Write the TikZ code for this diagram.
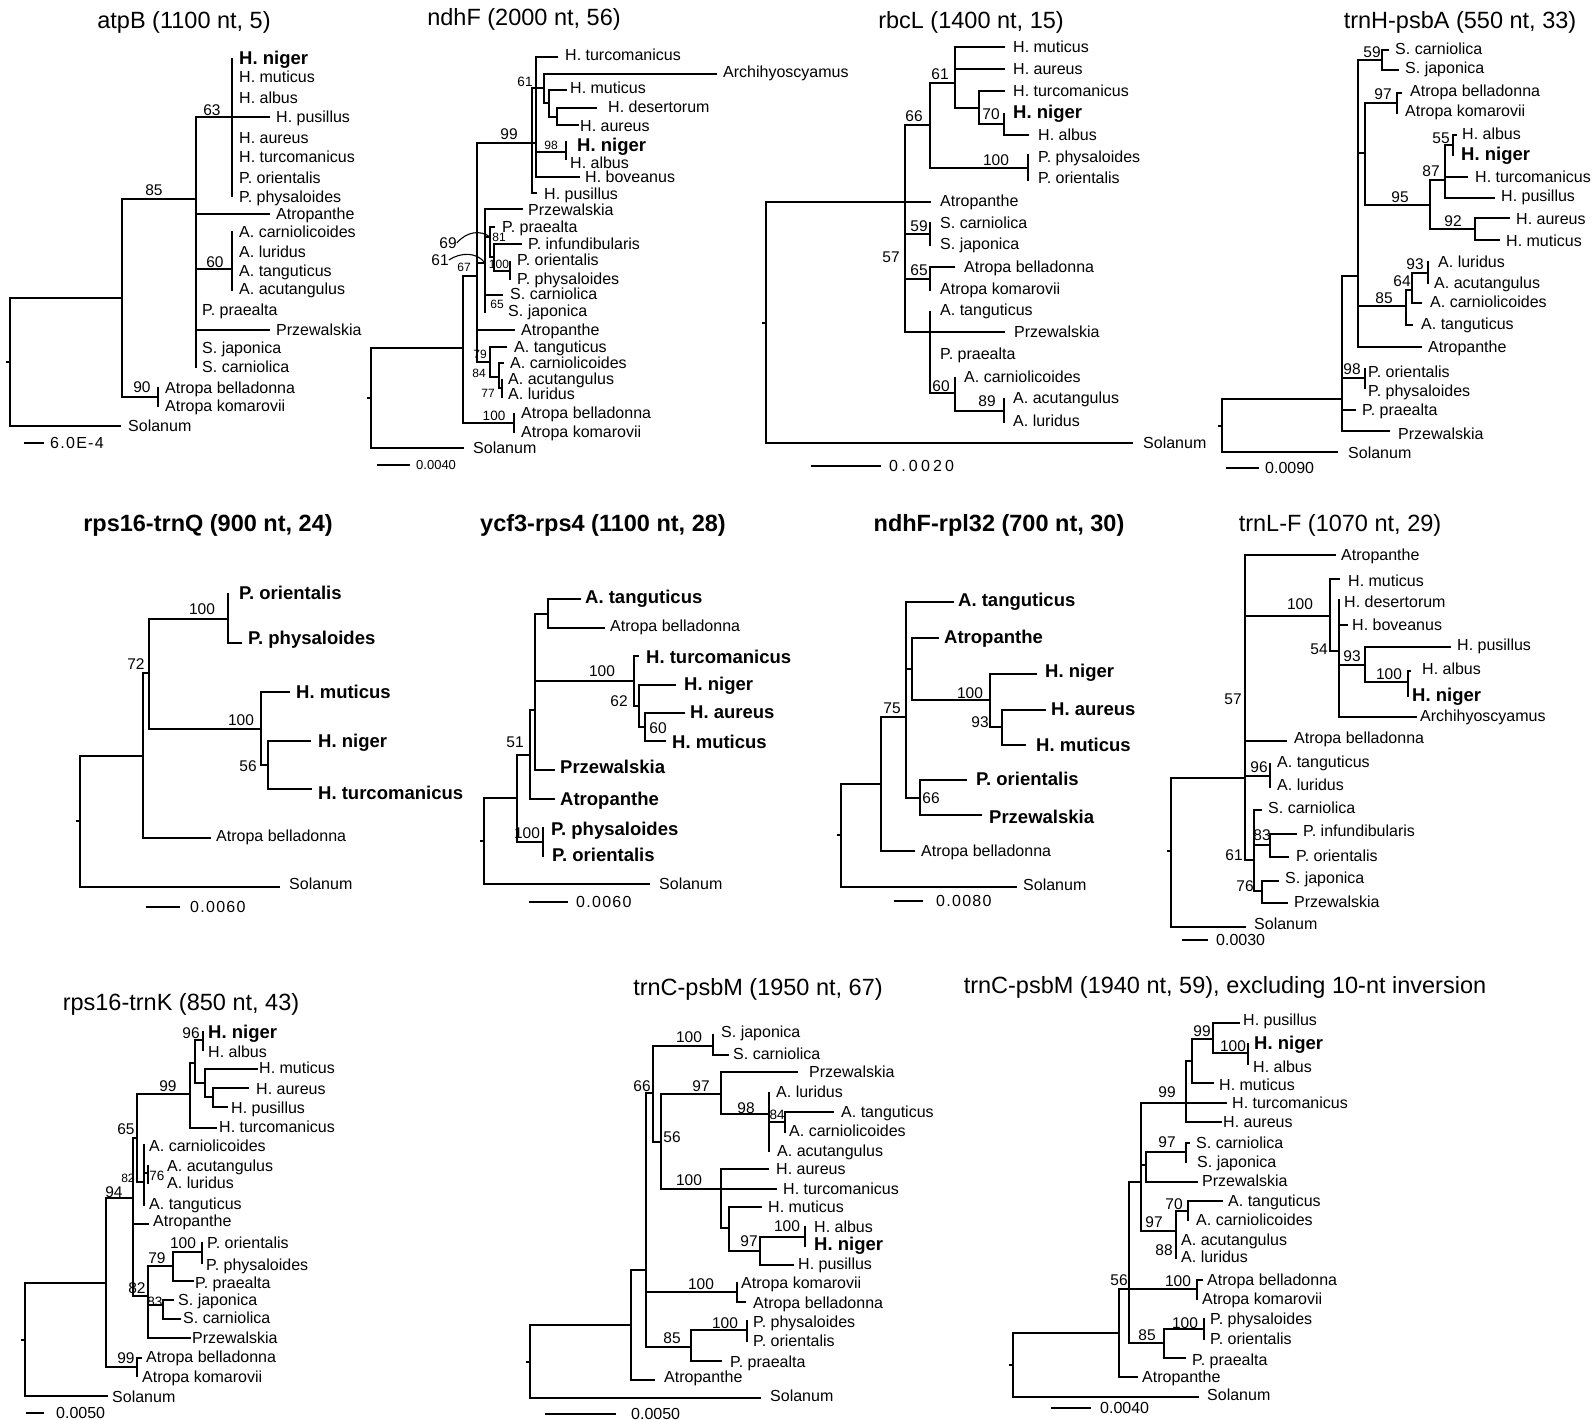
\documentclass[tikz,border=0pt]{standalone}
\usepackage{fontspec}
\setmainfont{Liberation Sans}
\newfontfamily\spfont[LetterSpace=8]{Liberation Sans}
\newfontfamily\spwfont[LetterSpace=20]{Liberation Sans}
\newcommand\lf[7][lab]{\coordinate (#2) at (#3,#4); \node[#1] (#2-t) at (#5,#6) {#7};}
\newcommand\kids[2]{\foreach \kk in {#2}{\draw[br] (#1) |- (\kk);}}
\newcommand\bv[4][bs]{\node[#1] (#2) at (#3) {#4};}
\newcommand\sbar[7][sc]{\coordinate (#2-a) at (#3,#5); \coordinate (#2-b) at (#4,#5); \draw[br] (#2-a) -- (#2-b); \node[#1] (#2-t) at (#6,#5) {#7};}
\newcommand\rt[3]{\coordinate (#1-0) at (#2-3,#3); \coordinate (#1R) at (#2,#3); \draw[br] (#1-0) -- (#1R);}
\tikzset{
 br/.style={line width=1.9pt, line cap=rect},
 lab/.style={anchor=base west, inner sep=0pt, font=\fontsize{16}{16}\selectfont, yshift=-5.7pt},
 labb/.style={anchor=base west, inner sep=0pt, font=\fontsize{18.5}{18.5}\selectfont\bfseries, yshift=-6.6pt},
 bs/.style={inner sep=0pt, font=\fontsize{15.5}{15.5}\selectfont},
 bsm/.style={inner sep=0pt, font=\fontsize{13.5}{13.5}\selectfont},
 bss/.style={inner sep=0pt, font=\fontsize{12}{12}\selectfont},
 ttl/.style={anchor=base, inner sep=0pt, font=\fontsize{23.5}{23.5}\selectfont, yshift=-8.5pt},
 ttlb/.style={anchor=base, inner sep=0pt, font=\fontsize{23.5}{23.5}\selectfont\bfseries, yshift=-8.5pt},
 sc/.style={anchor=base west, inner sep=0pt, font=\spfont\fontsize{16}{16}\selectfont, yshift=-5.7pt},
 scw/.style={anchor=base west, inner sep=0pt, font=\spwfont\fontsize{16}{16}\selectfont, yshift=-5.7pt},
 scs/.style={anchor=base west, inner sep=0pt, font=\fontsize{13}{13}\selectfont, yshift=-4.7pt},
 lead/.style={line width=1.1pt},
}
\begin{document}
\begin{tikzpicture}[x=1pt,y=-1pt]
\fill[white] (0,0) rectangle (1593,1420);
\useasboundingbox (0,0) rectangle (1593,1420);

% ================= Tree 1: atpB
\node[ttl] (t1) at (184,20) {atpB (1100 nt, 5)};
\rt{a}{10}{362}
\coordinate (aA) at (122,298);
\coordinate (aB) at (196,199);
\coordinate (aC) at (232,117);
\coordinate (aD) at (232,269);
\coordinate (aE) at (158,397);
\lf{aSol}{120}{426}{128}{426}{Solanum}
\lf[labb]{aHn}{232}{59}{239}{58}{H. niger}
\lf{aHm}{232}{77}{239}{77}{H. muticus}
\lf{aHa}{232}{98}{239}{98}{H. albus}
\lf{aHp}{269}{117}{276}{117}{H. pusillus}
\lf{aHau}{232}{138}{239}{138}{H. aureus}
\lf{aHt}{232}{157}{239}{157}{H. turcomanicus}
\lf{aPo}{232}{178}{239}{178}{P. orientalis}
\lf{aPp}{232}{196}{239}{197}{P. physaloides}
\lf{aAtp}{269}{214}{276}{214}{Atropanthe}
\lf{aAc}{232}{232}{239}{232}{A. carniolicoides}
\lf{aAl}{232}{252}{239}{252}{A. luridus}
\lf{aAt}{232}{271}{239}{271}{A. tanguticus}
\lf{aAa}{232}{290}{239}{289}{A. acutangulus}
\lf{aPpr}{196}{310}{202}{310}{P. praealta}
\lf{aPrz}{269}{330}{276}{330}{Przewalskia}
\lf{aSj}{196}{348}{202}{348}{S. japonica}
\lf{aSc}{196}{367}{202}{367}{S. carniolica}
\lf{aAb}{158}{388}{165}{388}{Atropa belladonna}
\lf{aAk}{158}{406}{165}{406}{Atropa komarovii}
\kids{aR}{aA,aSol}
\kids{aA}{aB,aE}
\kids{aB}{aC,aAtp,aD,aPpr,aPrz,aSj,aSc}
\kids{aC}{aHn,aHm,aHa,aHp,aHau,aHt,aPo,aPp}
\kids{aD}{aAc,aAl,aAt,aAa}
\kids{aE}{aAb,aAk}
\bv{aq1}{154,190}{85}
\bv{aq2}{212,110}{63}
\bv{aq3}{215,262}{60}
\bv{aq4}{142,387}{90}
\sbar{aS}{25}{43}{443}{50}{6.0E-4}

% ================= Tree 2: ndhF
\node[ttl] (t2) at (524,17) {ndhF (2000 nt, 56)};
\rt{b}{371}{398}
\coordinate (bA) at (463,348);
\coordinate (bE) at (477,276);
\coordinate (bF) at (532,143);
\coordinate (bF2) at (536,143);
\coordinate (bM) at (544,88);
\coordinate (bM2) at (549,103);
\coordinate (bM3) at (557,117);
\coordinate (bN) at (566,152);
\coordinate (bG) at (485,263);
\coordinate (b69) at (490,237);
\coordinate (b81) at (494,257);
\coordinate (bPo) at (510,271);
\coordinate (bH) at (490,362);
\coordinate (bH2) at (499,377);
\coordinate (bH3) at (502,388);
\coordinate (bAtr) at (514,423);
\lf{bSol}{463}{448}{473}{448}{Solanum}
\lf{bAb}{514}{414}{521}{413}{Atropa belladonna}
\lf{bAk}{514}{432}{521}{432}{Atropa komarovii}
\lf{bAtp}{514}{330}{521}{330}{Atropanthe}
\lf{bPrz}{522}{209}{528}{210}{Przewalskia}
\lf{bPpr}{494}{227}{502}{227}{P. praealta}
\lf{bPi}{521}{244}{528}{244}{P. infundibularis}
\lf{bPo1}{510}{262}{517}{260}{P. orientalis}
\lf{bPp}{510}{279}{517}{279}{P. physaloides}
\lf{bSc}{502}{295}{510}{294}{S. carniolica}
\lf{bSj}{485}{312}{508}{311}{S. japonica}
\lf{bAt}{506}{347}{514}{347}{A. tanguticus}
\lf{bAc}{503}{363}{510}{363}{A. carniolicoides}
\lf{bAa}{502}{380}{508}{379}{A. acutangulus}
\lf{bAl}{502}{397}{508}{394}{A. luridus}
\lf{bHt}{557}{57}{565}{55}{H. turcomanicus}
\lf{bAr}{716}{74}{723}{72}{Archihyoscyamus}
\lf{bHm}{566}{90}{570}{88}{H. muticus}
\lf{bHd}{596}{108}{608}{107}{H. desertorum}
\lf{bHa}{578}{125}{580}{126}{H. aureus}
\lf[labb]{bHn}{566}{142}{577}{145}{H. niger}
\lf{bHal}{566}{159}{570}{163}{H. albus}
\lf{bHb}{579}{177}{585}{177}{H. boveanus}
\lf{bHp}{536}{193}{544}{194}{H. pusillus}
\kids{bR}{bA,bSol}
\kids{bA}{bE,bAtr}
\kids{bAtr}{bAb,bAk}
\kids{bE}{bF,bG,bAtp,bH}
\kids{bG}{bPrz,b69,bSc,bSj}
\kids{b69}{bPpr,b81}
\kids{b81}{bPi,bPo}
\kids{bPo}{bPo1,bPp}
\kids{bH}{bAt,bH2}
\kids{bH2}{bAc,bH3}
\kids{bH3}{bAa,bAl}
\kids{bF}{bF2,bM,bHp}
\kids{bF2}{bHt,bN,bHb}
\kids{bN}{bHn,bHal}
\kids{bM}{bAr,bM2}
\kids{bM2}{bHm,bM3}
\kids{bM3}{bHd,bHa}
\bv{bq1}{509,134}{99}
\bv[bsm]{bq2}{525,82}{61}
\bv[bss]{bq3}{551,145}{98}
\bv[bss]{bq4}{464,267}{67}
\bv[bsm]{bq5}{494,416}{100}
\bv[bss]{bq6}{499,237}{81}
\bv[bss]{bq7}{499,264}{100}
\bv[bss]{bq8}{497,304}{65}
\bv[bss]{bq9}{480,354}{79}
\bv[bss]{bq10}{479,373}{84}
\bv[bss]{bq11}{488,393}{77}
\bv{bq69}{448,243}{69}
\bv{bq61}{440,260}{61}
\draw[lead] (bq69.east) .. controls (467,231) and (481,230) .. (b69);
\draw[lead] (bq61.east) .. controls (461,252) and (477,252) .. (bG);
\sbar[scs]{bS}{378}{409}{465}{416}{0.0040}

% ================= Tree 3: rbcL
\node[ttl] (t3) at (971,20) {rbcL (1400 nt, 15)};
\rt{c}{766}{323}
\coordinate (cA) at (905,202);
\coordinate (cB) at (930,125);
\coordinate (cC) at (955,83);
\coordinate (cD) at (979,108);
\coordinate (cE) at (1004,124);
\coordinate (cPh) at (1028,168);
\coordinate (cS) at (930,234);
\coordinate (cAt) at (930,279);
\coordinate (cP) at (930,332);
\coordinate (cQ) at (955,393);
\coordinate (cRr) at (1004,411);
\lf{cSol}{1132}{443}{1143}{443}{Solanum}
\lf{cAtp}{930}{202}{940}{201}{Atropanthe}
\lf{cSc}{930}{223}{940}{223}{S. carniolica}
\lf{cSj}{930}{245}{940}{244}{S. japonica}
\lf{cAb}{954}{267}{964}{267}{Atropa belladonna}
\lf{cAk}{930}{290}{940}{289}{Atropa komarovii}
\lf{cAt1}{930}{312}{940}{310}{A. tanguticus}
\lf{cPrz}{1004}{332}{1014}{332}{Przewalskia}
\lf{cPpr}{930}{354}{940}{354}{P. praealta}
\lf{cAc}{955}{378}{964}{377}{A. carniolicoides}
\lf{cAa}{1004}{399}{1013}{398}{A. acutangulus}
\lf{cAl}{1004}{422}{1013}{421}{A. luridus}
\lf{cHm}{1004}{47}{1013}{47}{H. muticus}
\lf{cHa}{1004}{69}{1013}{69}{H. aureus}
\lf{cHt}{1004}{91}{1013}{91}{H. turcomanicus}
\lf[labb]{cHn}{1004}{114}{1013}{112}{H. niger}
\lf{cHal}{1028}{135}{1038}{135}{H. albus}
\lf{cPp}{1028}{155}{1038}{157}{P. physaloides}
\lf{cPo}{1028}{180}{1038}{178}{P. orientalis}
\kids{cR}{cA,cSol}
\kids{cA}{cB,cAtp,cS,cAt,cP}
\kids{cS}{cSc,cSj}
\kids{cAt}{cAb,cAk}
\kids{cP}{cAt1,cPrz,cPpr,cQ}
\kids{cQ}{cAc,cRr}
\kids{cRr}{cAa,cAl}
\kids{cB}{cC,cPh}
\kids{cPh}{cPp,cPo}
\kids{cC}{cHm,cHa,cD}
\kids{cD}{cHt,cE}
\kids{cE}{cHn,cHal}
\bv{cq1}{914,116}{66}
\bv{cq2}{940,74}{61}
\bv{cq3}{991,114}{70}
\bv{cq4}{996,160}{100}
\bv{cq5}{919,226}{59}
\bv{cq6}{919,270}{65}
\bv{cq7}{891,257}{57}
\bv{cq8}{941,386}{60}
\bv{cq9}{987,401}{89}
\sbar[scw]{cSb}{812}{880}{466}{889}{0.0020}

% ================= Tree 4: trnH-psbA
\node[ttl] (t4) at (1460,20) {trnH-psbA (550 nt, 33)};
\rt{d}{1222}{426}
\coordinate (dA) at (1342,399);
\coordinate (dV) at (1358,276);
\coordinate (dS) at (1382,60);
\coordinate (dV2) at (1365,153);
\coordinate (dAt) at (1397,103);
\coordinate (d95) at (1430,205);
\coordinate (d87) at (1445,180);
\coordinate (d55) at (1453,145);
\coordinate (d92) at (1475,229);
\coordinate (d85) at (1406,306);
\coordinate (d64) at (1412,290);
\coordinate (d93) at (1428,273);
\coordinate (dPo) at (1365,378);
\lf{dSol}{1337}{452}{1348}{453}{Solanum}
\lf{dPo1}{1365}{369}{1368}{372}{P. orientalis}
\lf{dPp}{1365}{388}{1368}{391}{P. physaloides}
\lf{dPpr}{1355}{410}{1362}{410}{P. praealta}
\lf{dPrz}{1389}{431}{1398}{434}{Przewalskia}
\lf{dSc}{1388}{50}{1395}{49}{S. carniolica}
\lf{dSj}{1398}{70}{1405}{68}{S. japonica}
\lf{dAb}{1401}{93}{1410}{91}{Atropa belladonna}
\lf{dAk}{1397}{113}{1405}{111}{Atropa komarovii}
\lf{dHal}{1456}{135}{1462}{134}{H. albus}
\lf[labb]{dHn}{1453}{155}{1461}{154}{H. niger}
\lf{dHt}{1467}{177}{1475}{177}{H. turcomanicus}
\lf{dHp}{1494}{198}{1501}{196}{H. pusillus}
\lf{dHa}{1509}{218}{1516}{219}{H. aureus}
\lf{dHm}{1499}{240}{1506}{241}{H. muticus}
\lf{dAl}{1428}{262}{1438}{262}{A. luridus}
\lf{dAa}{1428}{283}{1434}{283}{A. acutangulus}
\lf{dAc}{1421}{303}{1430}{302}{A. carniolicoides}
\lf{dAt1}{1412}{325}{1421}{324}{A. tanguticus}
\lf{dAtp}{1421}{347}{1428}{347}{Atropanthe}
\kids{dR}{dA,dSol}
\kids{dA}{dV,dPo,dPpr,dPrz}
\kids{dPo}{dPo1,dPp}
\kids{dV}{dS,dV2,d85,dAtp}
\kids{dS}{dSc,dSj}
\kids{dV2}{dAt,d95}
\kids{dAt}{dAb,dAk}
\kids{d95}{d87,d92}
\kids{d87}{d55,dHt,dHp}
\kids{d55}{dHal,dHn}
\kids{d92}{dHa,dHm}
\kids{d85}{d64,dAt1}
\kids{d64}{d93,dAc}
\kids{d93}{dAl,dAa}
\bv{dq1}{1372,52}{59}
\bv{dq2}{1383,94}{97}
\bv{dq3}{1441,138}{55}
\bv{dq4}{1431,171}{87}
\bv{dq5}{1400,197}{95}
\bv{dq6}{1453,221}{92}
\bv{dq7}{1415,264}{93}
\bv{dq8}{1402,281}{64}
\bv{dq9}{1384,298}{85}
\bv{dq10}{1352,369}{98}
\sbar[lab]{dSb}{1227}{1258}{468}{1265}{0.0090}

% ================= Tree 5: rps16-trnQ
\node[ttlb] (t5) at (208,523) {rps16-trnQ (900 nt, 24)};
\rt{e}{80}{821}
\coordinate (eA) at (143,756);
\coordinate (eB) at (149,673);
\coordinate (eP) at (228,619);
\coordinate (eH) at (261,729);
\coordinate (eH2) at (268,765);
\lf{eSol}{279}{887}{289}{884}{Solanum}
\lf{eAb}{210}{838}{216}{836}{Atropa belladonna}
\lf[labb]{ePo}{228}{594}{239}{593}{P. orientalis}
\lf[labb]{ePp}{241}{643}{248}{638}{P. physaloides}
\lf[labb]{eHm}{289}{692}{296}{692}{H. muticus}
\lf[labb]{eHn}{310}{741}{318}{741}{H. niger}
\lf[labb]{eHt}{311}{789}{318}{793}{H. turcomanicus}
\kids{eR}{eA,eSol}
\kids{eA}{eB,eAb}
\kids{eB}{eP,eH}
\kids{eP}{ePo,ePp}
\kids{eH}{eHm,eH2}
\kids{eH2}{eHn,eHt}
\bv{eq1}{136,664}{72}
\bv{eq2}{202,609}{100}
\bv{eq3}{241,720}{100}
\bv{eq4}{248,766}{56}
\sbar{eSb}{147}{179}{907}{190}{0.0060}

% ================= Tree 6: ycf3-rps4
\node[ttlb] (t6) at (603,523) {ycf3-rps4 (1100 nt, 28)};
\rt{f}{484}{841}
\coordinate (fA) at (517,798);
\coordinate (fB) at (530,755);
\coordinate (fC) at (535,710);
\coordinate (fD) at (548,614);
\coordinate (fH) at (634,681);
\coordinate (fH2) at (639,706);
\coordinate (fH3) at (645,727);
\coordinate (fP) at (543,842);
\lf{fSol}{649}{884}{659}{884}{Solanum}
\lf[labb]{fPp}{543}{828}{551}{829}{P. physaloides}
\lf[labb]{fPo}{543}{856}{552}{855}{P. orientalis}
\lf[labb]{fAtp}{554}{799}{560}{799}{Atropanthe}
\lf[labb]{fPrz}{554}{770}{560}{767}{Przewalskia}
\lf[labb]{fAt}{580}{599}{585}{597}{A. tanguticus}
\lf{fAb}{604}{628}{610}{626}{Atropa belladonna}
\lf[labb]{fHt}{638}{656}{646}{657}{H. turcomanicus}
\lf[labb]{fHn}{675}{685}{684}{684}{H. niger}
\lf[labb]{fHa}{684}{713}{690}{712}{H. aureus}
\lf[labb]{fHm}{665}{741}{672}{742}{H. muticus}
\kids{fR}{fA,fSol}
\kids{fA}{fB,fP}
\kids{fP}{fPp,fPo}
\kids{fB}{fC,fAtp}
\kids{fC}{fD,fH,fPrz}
\kids{fD}{fAt,fAb}
\kids{fH}{fHt,fH2}
\kids{fH2}{fHn,fH3}
\kids{fH3}{fHa,fHm}
\bv{fq1}{515,742}{51}
\bv{fq2}{527,833}{100}
\bv{fq3}{602,671}{100}
\bv{fq4}{619,701}{62}
\bv{fq5}{658,728}{60}
\sbar{fSb}{530}{567}{902}{576}{0.0060}

% ================= Tree 7: ndhF-rpl32
\node[ttlb] (t7) at (999,523) {ndhF-rpl32 (700 nt, 30)};
\rt{g}{841}{835}
\coordinate (gA) at (881,784);
\coordinate (gB) at (906,717);
\coordinate (gC) at (912,669);
\coordinate (gH) at (990,700);
\coordinate (gH2) at (1002,727);
\coordinate (gD) at (920,798);
\lf{gSol}{1016}{887}{1023}{885}{Solanum}
\lf{gAb}{914}{851}{921}{851}{Atropa belladonna}
\lf[labb]{gAt}{953}{602}{958}{600}{A. tanguticus}
\lf[labb]{gAtp}{938}{638}{944}{637}{Atropanthe}
\lf[labb]{gHn}{1036}{674}{1045}{671}{H. niger}
\lf[labb]{gHa}{1045}{710}{1051}{709}{H. aureus}
\lf[labb]{gHm}{1025}{745}{1036}{745}{H. muticus}
\lf[labb]{gPo}{966}{780}{976}{779}{P. orientalis}
\lf[labb]{gPrz}{981}{815}{989}{817}{Przewalskia}
\kids{gR}{gA,gSol}
\kids{gA}{gB,gAb}
\kids{gB}{gAt,gC,gD}
\kids{gC}{gAtp,gH}
\kids{gH}{gHn,gH2}
\kids{gH2}{gHa,gHm}
\kids{gD}{gPo,gPrz}
\bv{gq1}{892,708}{75}
\bv{gq2}{970,693}{100}
\bv{gq3}{980,722}{93}
\bv{gq4}{931,798}{66}
\sbar{gSb}{895}{922}{901}{936}{0.0080}

% ================= Tree 8: trnL-F
\node[ttl] (t8) at (1340,523) {trnL-F (1070 nt, 29)};
\rt{h}{1171}{851}
\coordinate (hA) at (1245,778);
\coordinate (hB) at (1330,616);
\coordinate (hC) at (1339,651);
\coordinate (h93) at (1365,665);
\coordinate (h100) at (1408,682);
\coordinate (hAt) at (1270,776);
\coordinate (hS) at (1254,860);
\coordinate (h83) at (1270,845);
\coordinate (h76) at (1262,891);
\lf{hSol}{1245}{927}{1254}{924}{Solanum}
\lf{hAtp}{1335}{555}{1341}{555}{Atropanthe}
\lf{hHm}{1339}{579}{1348}{581}{H. muticus}
\lf{hHd}{1339}{600}{1344}{602}{H. desertorum}
\lf{hHb}{1347}{625}{1352}{625}{H. boveanus}
\lf{hHp}{1450}{647}{1457}{645}{H. pusillus}
\lf{hHal}{1410}{671}{1422}{669}{H. albus}
\lf[labb]{hHn}{1408}{696}{1412}{695}{H. niger}
\lf{hAr}{1416}{717}{1420}{716}{Archihyoscyamus}
\lf{hAb}{1286}{741}{1294}{738}{Atropa belladonna}
\lf{hAt1}{1270}{764}{1277}{762}{A. tanguticus}
\lf{hAl}{1270}{787}{1277}{785}{A. luridus}
\lf{hSc}{1261}{810}{1268}{808}{S. carniolica}
\lf{hPi}{1296}{834}{1303}{831}{P. infundibularis}
\lf{hPo}{1288}{857}{1296}{856}{P. orientalis}
\lf{hSj}{1278}{881}{1285}{878}{S. japonica}
\lf{hPrz}{1287}{903}{1294}{902}{Przewalskia}
\kids{hR}{hA,hSol}
\kids{hA}{hAtp,hB,hAb,hAt,hS}
\kids{hAt}{hAt1,hAl}
\kids{hS}{hSc,h83,h76}
\kids{h83}{hPi,hPo}
\kids{h76}{hSj,hPrz}
\kids{hB}{hHm,hC}
\kids{hC}{hHd,hHb,h93,hAr}
\kids{h93}{hHp,h100}
\kids{h100}{hHal,hHn}
\bv{hq1}{1300,604}{100}
\bv{hq2}{1319,649}{54}
\bv{hq3}{1352,656}{93}
\bv{hq4}{1389,674}{100}
\bv{hq5}{1233,699}{57}
\bv{hq6}{1259,767}{96}
\bv{hq7}{1262,835}{83}
\bv{hq8}{1234,855}{61}
\bv{hq9}{1245,886}{76}
\sbar[lab]{hSb}{1183}{1207}{940}{1216}{0.0030}

% ================= Tree 9: rps16-trnK
\node[ttl] (t9) at (181,1002) {rps16-trnK (850 nt, 43)};
\rt{i}{25}{1340}
\coordinate (iA) at (106,1283);
\coordinate (iB) at (133,1198);
\coordinate (i65) at (137,1138);
\coordinate (iA2) at (144,1182);
\coordinate (i76) at (148,1173);
\coordinate (i82) at (148,1296);
\coordinate (i79) at (173,1266);
\coordinate (i100) at (202,1252);
\coordinate (i83) at (163,1305);
\coordinate (iH) at (190,1094);
\coordinate (iH2) at (195,1063);
\coordinate (iN) at (203,1040);
\coordinate (iM) at (205,1083);
\coordinate (iM2) at (213,1097);
\coordinate (iAt) at (137,1367);
\lf{iSol}{107}{1396}{112}{1397}{Solanum}
\lf{iAb}{141}{1358}{146}{1357}{Atropa belladonna}
\lf{iAk}{137}{1376}{142}{1377}{Atropa komarovii}
\lf{iAtp}{148}{1224}{153}{1221}{Atropanthe}
\lf{iAc}{144}{1145}{149}{1146}{A. carniolicoides}
\lf{iAa}{148}{1166}{167}{1166}{A. acutangulus}
\lf{iAl}{148}{1183}{167}{1183}{A. luridus}
\lf{iAt1}{144}{1205}{149}{1204}{A. tanguticus}
\lf{iPo}{202}{1243}{207}{1243}{P. orientalis}
\lf{iPp}{202}{1263}{206}{1265}{P. physaloides}
\lf{iPpr}{193}{1281}{195}{1283}{P. praealta}
\lf{iSj}{173}{1300}{178}{1300}{S. japonica}
\lf{iSc}{180}{1319}{183}{1318}{S. carniolica}
\lf{iPrz}{190}{1338}{192}{1338}{Przewalskia}
\lf[labb]{iHn}{203}{1032}{208}{1032}{H. niger}
\lf{iHal}{203}{1050}{208}{1052}{H. albus}
\lf{iHm}{257}{1069}{259}{1068}{H. muticus}
\lf{iHa}{248}{1088}{256}{1089}{H. aureus}
\lf{iHp}{227}{1107}{231}{1108}{H. pusillus}
\lf{iHt}{216}{1128}{219}{1127}{H. turcomanicus}
\kids{iR}{iA,iSol}
\kids{iA}{iB,iAt}
\kids{iAt}{iAb,iAk}
\kids{iB}{i65,iAtp,i82}
\kids{i65}{iH,iA2}
\kids{iA2}{iAc,i76,iAt1}
\kids{i76}{iAa,iAl}
\kids{i82}{i79,i83,iPrz}
\kids{i79}{i100,iPpr}
\kids{i100}{iPo,iPp}
\kids{i83}{iSj,iSc}
\kids{iH}{iH2,iHt}
\kids{iH2}{iN,iM}
\kids{iN}{iHn,iHal}
\kids{iM}{iHm,iM2}
\kids{iM2}{iHa,iHp}
\bv{iq1}{191,1033}{96}
\bv{iq2}{168,1086}{99}
\bv{iq3}{126,1129}{65}
\bv[bss]{iq4}{128,1178}{82}
\bv[bsm]{iq5}{157,1176}{76}
\bv{iq6}{114,1192}{94}
\bv{iq7}{157,1258}{79}
\bv{iq8}{183,1243}{100}
\bv{iq9}{137,1288}{82}
\bv[bsm]{iq10}{155,1302}{83}
\bv{iq11}{126,1358}{99}
\sbar[lab]{iSb}{27}{43}{1413}{56}{0.0050}

% ================= Tree 10: trnC-psbM
\node[ttl] (t10) at (758,987) {trnC-psbM (1950 nt, 67)};
\rt{j}{530}{1362}
\coordinate (jA) at (631,1325);
\coordinate (jB) at (646,1270);
\coordinate (j66) at (653,1093);
\coordinate (jS) at (713,1046);
\coordinate (j56) at (661,1142);
\coordinate (j97) at (721,1094);
\coordinate (j98) at (769,1114);
\coordinate (j84) at (785,1122);
\coordinate (jH) at (721,1189);
\coordinate (jH2) at (729,1228);
\coordinate (j97b) at (760,1251);
\coordinate (j100) at (805,1237);
\coordinate (jAt) at (737,1292);
\coordinate (jP) at (691,1347);
\coordinate (jPh) at (747,1330);
\lf{jSol}{760}{1398}{770}{1396}{Solanum}
\lf{jAtp}{654}{1380}{664}{1377}{Atropanthe}
\lf{jSj}{713}{1035}{721}{1032}{S. japonica}
\lf{jSc}{728}{1055}{733}{1054}{S. carniolica}
\lf{jPrz}{797}{1072}{809}{1072}{Przewalskia}
\lf{jAl}{769}{1093}{776}{1092}{A. luridus}
\lf{jAt1}{833}{1112}{841}{1112}{A. tanguticus}
\lf{jAc}{785}{1132}{789}{1131}{A. carniolicoides}
\lf{jAa}{769}{1151}{777}{1151}{A. acutangulus}
\lf{jHa}{768}{1169}{776}{1169}{H. aureus}
\lf{jHt}{776}{1189}{783}{1189}{H. turcomanicus}
\lf{jHm}{761}{1207}{768}{1207}{H. muticus}
\lf{jHal}{805}{1227}{814}{1227}{H. albus}
\lf[labb]{jHn}{805}{1246}{814}{1244}{H. niger}
\lf{jHp}{793}{1265}{798}{1264}{H. pusillus}
\lf{jAk}{737}{1283}{741}{1283}{Atropa komarovii}
\lf{jAb}{745}{1302}{753}{1303}{Atropa belladonna}
\lf{jPp}{747}{1321}{753}{1322}{P. physaloides}
\lf{jPo}{747}{1341}{753}{1341}{P. orientalis}
\lf{jPpr}{721}{1361}{730}{1362}{P. praealta}
\kids{jR}{jA,jSol}
\kids{jA}{jB,jAtp}
\kids{jB}{j66,jAt,jP}
\kids{j66}{jS,j56}
\kids{jS}{jSj,jSc}
\kids{j56}{j97,jH}
\kids{j97}{jPrz,j98}
\kids{j98}{jAl,j84,jAa}
\kids{j84}{jAt1,jAc}
\kids{jH}{jHa,jHt,jH2}
\kids{jH2}{jHm,j97b}
\kids{j97b}{j100,jHp}
\kids{j100}{jHal,jHn}
\kids{jAt}{jAk,jAb}
\kids{jP}{jPh,jPpr}
\kids{jPh}{jPp,jPo}
\bv{jq1}{689,1037}{100}
\bv{jq2}{642,1086}{66}
\bv{jq3}{701,1086}{97}
\bv{jq4}{746,1108}{98}
\bv[bsm]{jq5}{777,1115}{84}
\bv{jq6}{672,1137}{56}
\bv{jq7}{689,1180}{100}
\bv{jq8}{787,1226}{100}
\bv{jq9}{749,1241}{97}
\bv{jq10}{701,1284}{100}
\bv{jq11}{725,1323}{100}
\bv{jq12}{672,1338}{85}
\sbar[lab]{jSb}{546}{615}{1414}{631}{0.0050}

% ================= Tree 11: trnC-psbM excluding inversion
\node[ttl] (t11) at (1225,985) {trnC-psbM (1940 nt, 59), excluding 10-nt inversion};
\rt{k}{1013}{1365}
\coordinate (kA) at (1119,1333);
\coordinate (kB) at (1129,1289);
\coordinate (kC) at (1141,1182);
\coordinate (k99) at (1186,1103);
\coordinate (kH) at (1192,1061);
\coordinate (kH99) at (1213,1039);
\coordinate (kN) at (1248,1053);
\coordinate (kSg) at (1146,1165);
\coordinate (kS) at (1186,1152);
\coordinate (kA97) at (1176,1231);
\coordinate (k70) at (1188,1211);
\coordinate (kAt) at (1197,1289);
\coordinate (kP) at (1164,1343);
\coordinate (kPh) at (1204,1329);
\lf{kSol}{1198}{1397}{1207}{1395}{Solanum}
\lf{kAtp}{1137}{1377}{1142}{1377}{Atropanthe}
\lf{kHp}{1239}{1023}{1243}{1020}{H. pusillus}
\lf[labb]{kHn}{1248}{1044}{1254}{1043}{H. niger}
\lf{kHal}{1248}{1064}{1253}{1067}{H. albus}
\lf{kHm}{1213}{1083}{1219}{1085}{H. muticus}
\lf{kHt}{1226}{1103}{1232}{1103}{H. turcomanicus}
\lf{kHa}{1221}{1122}{1223}{1122}{H. aureus}
\lf{kSc}{1189}{1143}{1196}{1143}{S. carniolica}
\lf{kSj}{1186}{1162}{1197}{1162}{S. japonica}
\lf{kPrz}{1197}{1182}{1202}{1181}{Przewalskia}
\lf{kAt1}{1222}{1201}{1228}{1201}{A. tanguticus}
\lf{kAc}{1188}{1220}{1196}{1220}{A. carniolicoides}
\lf{kAa}{1176}{1240}{1181}{1240}{A. acutangulus}
\lf{kAl}{1176}{1258}{1181}{1257}{A. luridus}
\lf{kAb}{1202}{1280}{1207}{1280}{Atropa belladonna}
\lf{kAk}{1197}{1299}{1202}{1299}{Atropa komarovii}
\lf{kPp}{1204}{1319}{1210}{1319}{P. physaloides}
\lf{kPo}{1204}{1339}{1210}{1339}{P. orientalis}
\lf{kPpr}{1185}{1358}{1192}{1360}{P. praealta}
\kids{kR}{kA,kSol}
\kids{kA}{kB,kAtp}
\kids{kB}{kC,kAt,kP}
\kids{kAt}{kAb,kAk}
\kids{kP}{kPh,kPpr}
\kids{kPh}{kPp,kPo}
\kids{kC}{k99,kSg,kA97}
\kids{k99}{kH,kHt,kHa}
\kids{kH}{kH99,kHm}
\kids{kH99}{kHp,kN}
\kids{kN}{kHn,kHal}
\kids{kSg}{kS,kPrz}
\kids{kS}{kSc,kSj}
\kids{kA97}{k70,kAa,kAl}
\kids{k70}{kAt1,kAc}
\bv{kq1}{1202,1031}{99}
\bv{kq2}{1233,1046}{100}
\bv{kq3}{1167,1092}{99}
\bv{kq4}{1167,1142}{97}
\bv{kq5}{1174,1204}{70}
\bv{kq6}{1154,1222}{97}
\bv{kq7}{1164,1250}{88}
\bv{kq8}{1119,1280}{56}
\bv{kq9}{1178,1281}{100}
\bv{kq10}{1185,1323}{100}
\bv{kq11}{1147,1335}{85}
\sbar[lab]{kSb}{1052}{1090}{1408}{1100}{0.0040}

\end{tikzpicture}
\end{document}
